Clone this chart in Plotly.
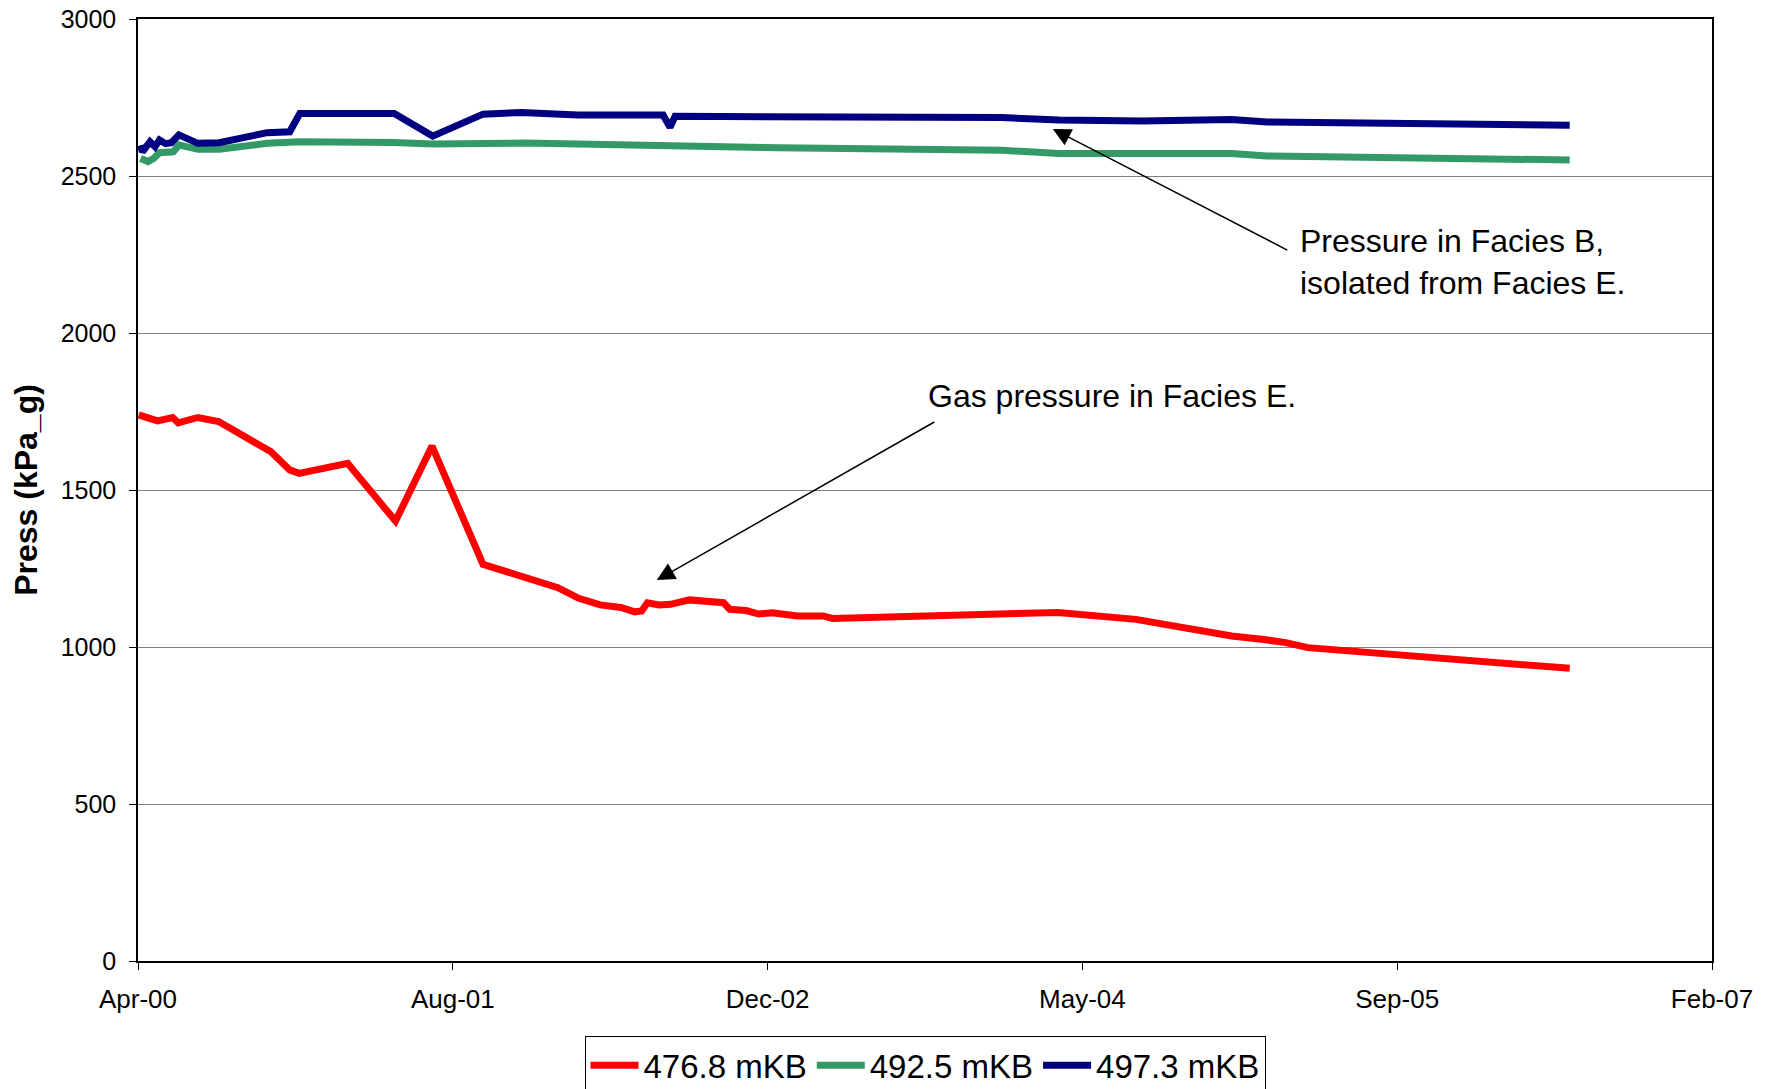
import plotly.graph_objects as go

# ---- data ----
red_dates = ["2000-04-02", "2000-05-02", "2000-05-26", "2000-06-04", "2000-07-05", "2000-08-07",
             "2000-10-29", "2000-11-28", "2000-12-13", "2001-02-28", "2001-05-15", "2001-07-12",
             "2001-10-01", "2001-10-31", "2002-01-28", "2002-03-02", "2002-04-05", "2002-05-08",
             "2002-05-30", "2002-06-10", "2002-06-19", "2002-07-08", "2002-07-26", "2002-08-25",
             "2002-09-19", "2002-10-18", "2002-10-28", "2002-11-23", "2002-12-13", "2003-01-03",
             "2003-02-13", "2003-03-25", "2003-04-09", "2003-05-25", "2004-01-03", "2004-04-01",
             "2004-08-03", "2005-01-02", "2005-02-22", "2005-03-29", "2005-05-03", "2006-06-23"]
red_values = [1739, 1720, 1731, 1714, 1731, 1718,
              1622, 1564, 1553, 1585, 1401, 1640,
              1263, 1245, 1189, 1155, 1134, 1126,
              1112, 1115, 1141, 1134, 1136, 1150,
              1146, 1141, 1120, 1116, 1105, 1109,
              1099, 1099, 1091, 1094, 1109, 1110,
              1088, 1035, 1024, 1014, 998, 932]

green_dates = ["2000-04-05", "2000-04-17", "2000-04-26", "2000-05-05", "2000-05-27", "2000-06-05",
               "2000-07-05", "2000-08-08", "2000-10-23", "2000-12-14", "2001-05-13", "2001-07-13",
               "2001-12-07", "2002-03-01", "2002-10-11", "2003-01-13", "2004-01-03", "2004-04-03",
               "2005-01-02", "2005-02-27", "2006-06-23"]
green_values = [2556, 2546, 2556, 2574, 2577, 2599,
                2585, 2585, 2604, 2609, 2607, 2602,
                2605, 2601, 2593, 2590, 2582, 2572,
                2572, 2564, 2551]

blue_dates = ["2000-04-05", "2000-04-08", "2000-04-20", "2000-04-28", "2000-05-05", "2000-05-15",
              "2000-05-24", "2000-06-05", "2000-07-05", "2000-08-08", "2000-10-23", "2000-11-28",
              "2000-12-14", "2001-05-13", "2001-07-13", "2001-10-01", "2001-12-01", "2002-03-01",
              "2002-07-14", "2002-07-25", "2002-08-02", "2003-01-13", "2003-05-15", "2004-01-03",
              "2004-04-03", "2004-08-13", "2005-01-02", "2005-02-27", "2006-06-23"]
blue_values = [2598, 2577, 2609, 2593, 2615, 2603,
               2606, 2631, 2604, 2606, 2638, 2641,
               2699, 2699, 2627, 2697, 2702, 2694,
               2694, 2655, 2690, 2690, 2686, 2686,
               2678, 2675, 2680, 2672, 2662]

series_names = ["476.8 mKB", "492.5 mKB", "497.3 mKB"]
series_colors = ["#FF0000", "#339966", "#000080"]

x_tick_vals = ["2000-04-01", "2001-08-14", "2002-12-27", "2004-05-10", "2005-09-22", "2007-02-04"]
x_tick_text = ["Apr-00", "Aug-01", "Dec-02", "May-04", "Sep-05", "Feb-07"]
y_tick_vals = [0, 500, 1000, 1500, 2000, 2500, 3000]

FONT = "Liberation Sans, Arial, sans-serif"

fig = go.Figure()
for d, v, n, c in [(red_dates, red_values, series_names[0], series_colors[0]),
                   (green_dates, green_values, series_names[1], series_colors[1]),
                   (blue_dates, blue_values, series_names[2], series_colors[2])]:
    fig.add_trace(go.Scatter(x=d, y=v, mode="lines", name=n,
                             line=dict(color=c, width=7)))

fig.update_layout(
    width=1768, height=1081,
    margin=dict(l=130, r=64, t=11, b=128, autoexpand=False),
    paper_bgcolor="white", plot_bgcolor="white",
    font=dict(family=FONT, color="black"),
    showlegend=True,
    legend=dict(orientation="h", xref="paper", x=0.5, xanchor="center",
                yref="container", y=0.022, yanchor="middle",
                bordercolor="black", borderwidth=1, font=dict(size=33, family=FONT),
                itemwidth=48, tracegroupgap=0),
    xaxis=dict(type="date", range=["2000-04-01", "2007-02-04"],
               tickmode="array", tickvals=x_tick_vals, ticktext=x_tick_text,
               ticks="outside", ticklen=7, tickcolor="black", tickwidth=1,
               ticklabelstandoff=7, ticklabeloverflow="allow", automargin=False,
               showgrid=False, showline=True, linecolor="black", linewidth=1.5,
               mirror=True, zeroline=False,
               tickfont=dict(size=26, family=FONT)),
    yaxis=dict(range=[0, 3000], tickmode="array", tickvals=y_tick_vals,
               ticks="outside", ticklen=7, tickcolor="black", tickwidth=1,
               ticklabelstandoff=8, ticklabeloverflow="allow", automargin=False,
               showgrid=True, gridcolor="#808080", gridwidth=1,
               showline=True, linecolor="black", linewidth=1.5, mirror=True,
               zeroline=False,
               tickfont=dict(size=25, family=FONT),
               title=dict(text="<b>Press (kPa_g)</b>", font=dict(size=32, family=FONT),
                          standoff=18)),
)

# arrows
fig.add_annotation(x="2004-03-24", y=2650, xref="x", yref="y",
                   ax=236, ay=122, axref="pixel", ayref="pixel",
                   showarrow=True, arrowhead=2, arrowsize=2.4, arrowwidth=1.5,
                   arrowcolor="black", text="")
fig.add_annotation(x="2002-07-04", y=1213, xref="x", yref="y",
                   ax=279, ay=-159, axref="pixel", ayref="pixel",
                   showarrow=True, arrowhead=2, arrowsize=2.4, arrowwidth=1.5,
                   arrowcolor="black", text="")
# texts
fig.add_annotation(x=0.737, y=0.742, xref="paper", yref="paper",
                   xanchor="left", yanchor="middle", align="left", showarrow=False,
                   text="Pressure in Facies B,<br>isolated from Facies E.",
                   font=dict(size=32, family=FONT, color="black"))
fig.add_annotation(x=0.5006, y=0.600, xref="paper", yref="paper",
                   xanchor="left", yanchor="middle", align="left", showarrow=False,
                   text="Gas pressure in Facies E.",
                   font=dict(size=32, family=FONT, color="black"))

fig.write_html("out.html")
